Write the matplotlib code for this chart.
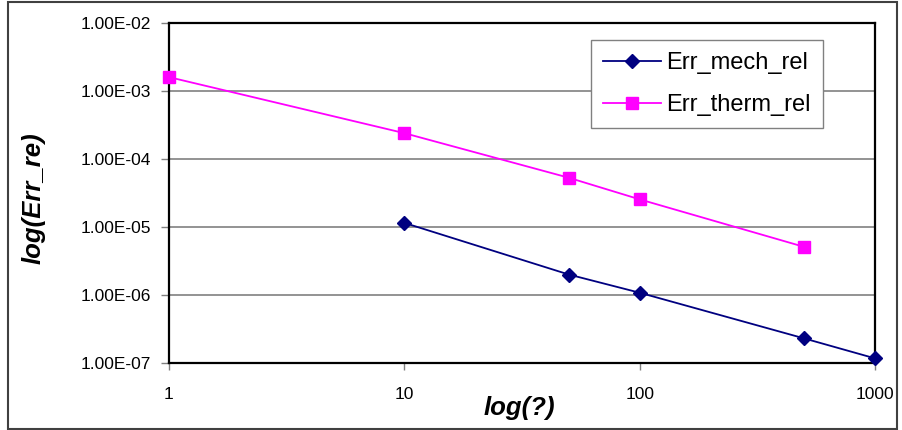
import matplotlib
matplotlib.use("Agg")
import matplotlib.pyplot as plt
from matplotlib.ticker import FixedLocator, NullLocator

plt.rcParams['font.family'] = ['Liberation Sans', 'DejaVu Sans']

mech_x = [10, 50, 100, 500, 1000]
mech_y = [1.15e-5, 2.0e-6, 1.08e-6, 2.3e-7, 1.17e-7]
therm_x = [1, 10, 50, 100, 500]
therm_y = [1.6e-3, 2.4e-4, 5.3e-5, 2.55e-5, 5.1e-6]
y_ticks = [1e-7, 1e-6, 1e-5, 1e-4, 1e-3, 1e-2]
y_labels = ["1.00E-07", "1.00E-06", "1.00E-05", "1.00E-04", "1.00E-03", "1.00E-02"]
x_ticks = [1, 10, 100, 1000]
x_labels = ["1", "10", "100", "1000"]

fig = plt.figure(figsize=(9.03, 4.30), dpi=100)
ax = fig.add_axes([169/903, 1 - 363/430, (875-169)/903, (363-23)/430])

ax.set_xscale('log')
ax.set_yscale('log')
ax.set_xlim(1, 1000)
ax.set_ylim(1e-7, 1e-2)

ax.plot(mech_x, mech_y, color='#000080', lw=1.3, marker='D', ms=7.5,
        markerfacecolor='#000080', markeredgecolor='#000080', label='Err_mech_rel', zorder=3, clip_on=False)
ax.plot(therm_x, therm_y, color='#FF00FF', lw=1.3, marker='s', ms=8,
        markerfacecolor='#FF00FF', markeredgecolor='#FF00FF', label='Err_therm_rel', zorder=3, clip_on=False)

ax.yaxis.set_major_locator(FixedLocator(y_ticks))
ax.yaxis.set_minor_locator(NullLocator())
ax.set_yticklabels(y_labels)
ax.xaxis.set_major_locator(FixedLocator(x_ticks))
ax.xaxis.set_minor_locator(NullLocator())
ax.set_xticklabels(x_labels)

ax.grid(axis='y', color='#808080', lw=1.2)
ax.set_axisbelow(True)
for s in ax.spines.values():
    s.set_color('black')
    s.set_linewidth(1.6)

ax.tick_params(axis='y', direction='out', length=6, width=1, color='#808080',
               labelsize=12.5, pad=7)
ax.tick_params(axis='x', direction='out', length=5, width=1, color='#808080',
               labelsize=12.5, pad=12)

ax.set_xlabel('log(?)', fontsize=18.5, fontweight='bold', fontstyle='italic')
ax.xaxis.set_label_coords((519-169)/706, (363-408)/340)
ax.xaxis.label.set_va('center')
ax.set_ylabel('log(Err_re)', fontsize=18.5, fontweight='bold', fontstyle='italic')
ax.yaxis.set_label_coords((34-169)/706, (363-198)/340)
ax.yaxis.label.set_va('center')

leg = ax.legend(loc='upper left', bbox_to_anchor=((591-169)/706, (363-40)/340), frameon=True,
                fancybox=False, edgecolor='#808080', fontsize=17, handlelength=2.45,
                borderpad=0.5, labelspacing=0.85, handletextpad=0.25, borderaxespad=0,
                framealpha=1)
leg.get_frame().set_linewidth(1.0)

fig.add_artist(plt.Rectangle((8/903, 1/430), 889/903, 427/430, transform=fig.transFigure,
                             fill=False, edgecolor='#404040', lw=1.5))

fig.savefig('out.png', dpi=100)
